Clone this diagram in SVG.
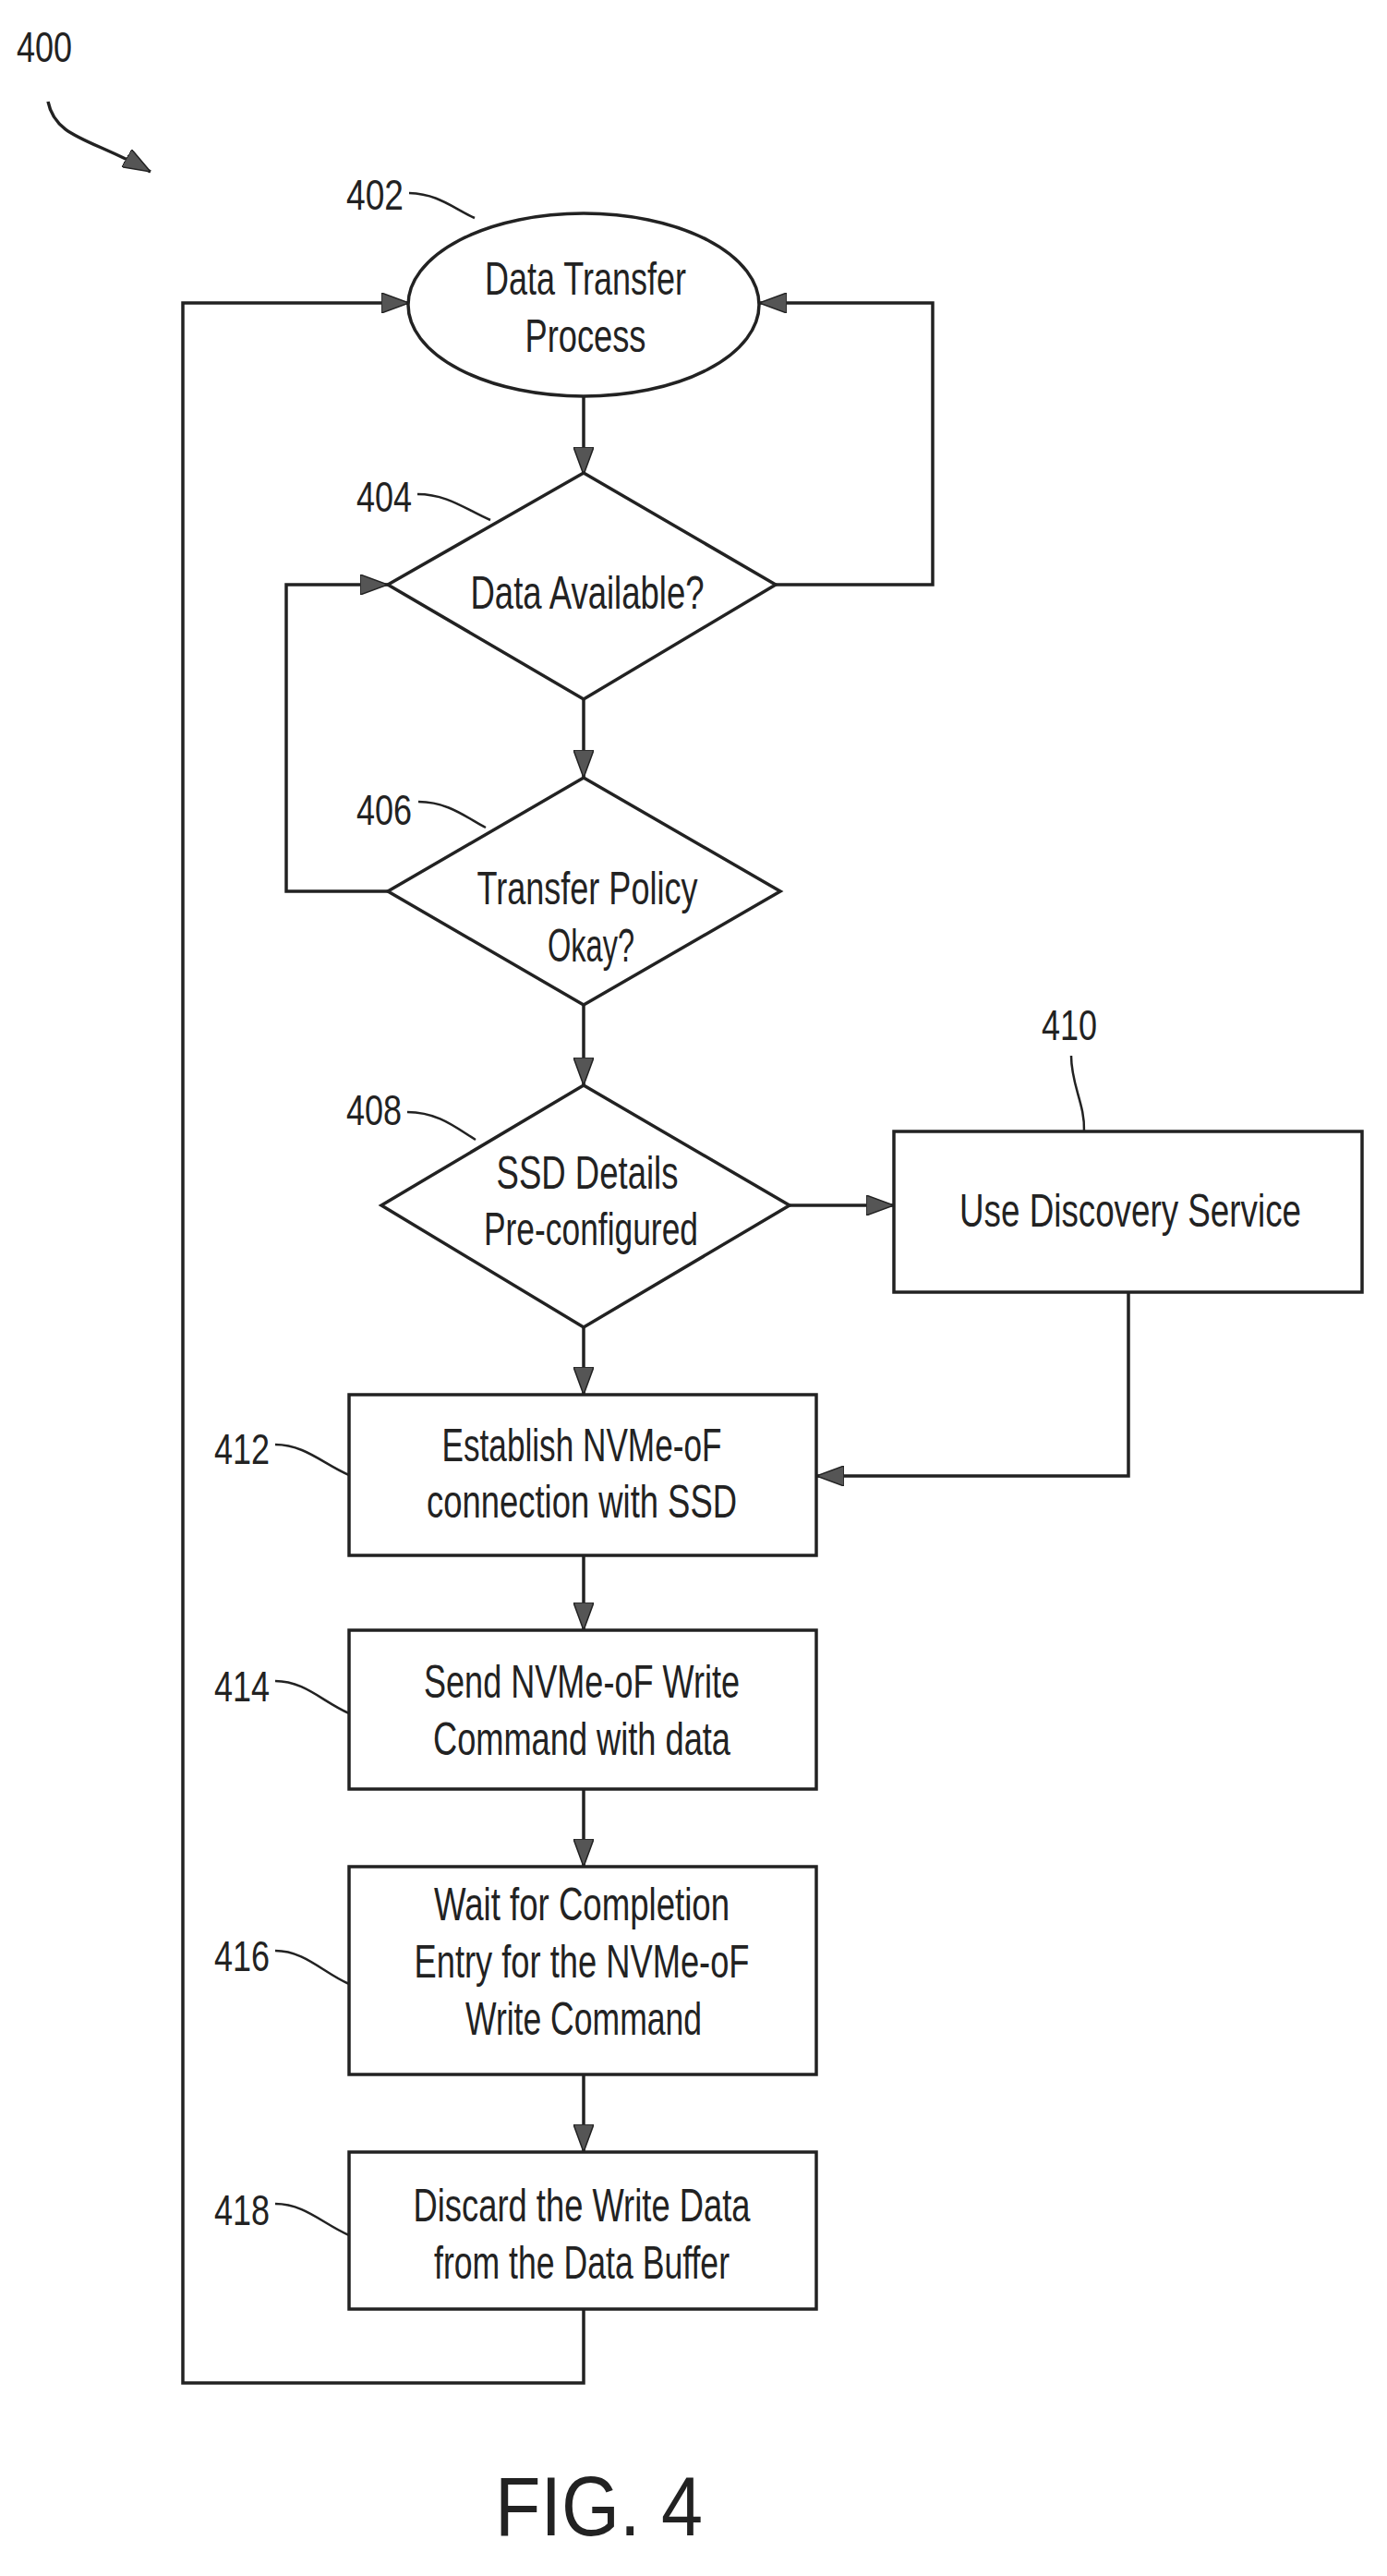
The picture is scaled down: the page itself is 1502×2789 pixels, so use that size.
<svg xmlns="http://www.w3.org/2000/svg" width="1502" height="2789" viewBox="0 0 1502 2789">
<style>
.s{fill:none;stroke:#222;stroke-width:3.5}
.c{fill:none;stroke:#222;stroke-width:3.5;marker-end:url(#a)}
.n{fill:#fff;stroke:#222;stroke-width:3.5}
text{font-family:"Liberation Sans",Arial,sans-serif;fill:#222;font-size:50px}
.t{text-anchor:middle}
.l{font-size:46px}
</style>
<defs>
<marker id="a" viewBox="0 0 30 22" refX="30" refY="11" markerWidth="30" markerHeight="22" markerUnits="userSpaceOnUse" orient="auto">
<path d="M0,0 L30,11 L0,22 Z" fill="#555" stroke="#222" stroke-width="1.5"/>
</marker>
</defs>
<rect width="1502" height="2789" fill="#fff"/>
<g id="connectors">
<path class="c" d="M632,429 V514"/>
<path class="c" d="M632,757 V842"/>
<path class="c" d="M632,1088 V1175"/>
<path class="c" d="M632,1437 V1510"/>
<path class="c" d="M632,1684 V1765"/>
<path class="c" d="M632,1937 V2021"/>
<path class="c" d="M632,2246 V2330"/>
<path class="c" d="M855,1305 H968"/>
<path class="c" d="M1222,1399 V1598 H884"/>
<path class="c" d="M840,633 H1010 V328 H822"/>
<path class="c" d="M420,965 H310 V633 H420"/>
<path class="c" d="M632,2500 V2580 H198 V328 H443"/>
<path class="c" d="M52,110 C60,150 100,150 163,186"/>
</g>
<g id="n402"><ellipse class="n" cx="632" cy="330" rx="190" ry="99"/>
<text class="t" x="634" y="319" textLength="218" lengthAdjust="spacingAndGlyphs">Data Transfer</text>
<text class="t" x="634" y="381" textLength="131" lengthAdjust="spacingAndGlyphs">Process</text></g>
<g id="n404"><polygon class="n" points="632,512 840,633 632,757 420,633"/>
<text class="t" x="636" y="659" textLength="253" lengthAdjust="spacingAndGlyphs">Data Available?</text></g>
<g id="n406"><polygon class="n" points="632,842 845,965 632,1088 420,965"/>
<text class="t" x="636" y="979" textLength="239" lengthAdjust="spacingAndGlyphs">Transfer Policy</text>
<text class="t" x="640" y="1041" textLength="94" lengthAdjust="spacingAndGlyphs">Okay?</text></g>
<g id="n408"><polygon class="n" points="632,1175 855,1305 632,1437 413,1305"/>
<text class="t" x="636" y="1287" textLength="197" lengthAdjust="spacingAndGlyphs">SSD Details</text>
<text class="t" x="640" y="1348" textLength="232" lengthAdjust="spacingAndGlyphs">Pre-configured</text></g>
<g id="n410"><rect class="n" x="968" y="1225" width="507" height="174"/>
<text class="t" x="1224" y="1328" textLength="370" lengthAdjust="spacingAndGlyphs">Use Discovery Service</text></g>
<g id="n412"><rect class="n" x="378" y="1510" width="506" height="174"/>
<text class="t" x="630" y="1582" textLength="303" lengthAdjust="spacingAndGlyphs">Establish NVMe-oF</text>
<text class="t" x="630" y="1643" textLength="336" lengthAdjust="spacingAndGlyphs">connection with SSD</text></g>
<g id="n414"><rect class="n" x="378" y="1765" width="506" height="172"/>
<text class="t" x="630" y="1838" textLength="342" lengthAdjust="spacingAndGlyphs">Send NVMe-oF Write</text>
<text class="t" x="630" y="1900" textLength="322" lengthAdjust="spacingAndGlyphs">Command with data</text></g>
<g id="n416"><rect class="n" x="378" y="2021" width="506" height="225"/>
<text class="t" x="630" y="2079" textLength="320" lengthAdjust="spacingAndGlyphs">Wait for Completion</text>
<text class="t" x="630" y="2141" textLength="363" lengthAdjust="spacingAndGlyphs">Entry for the NVMe-oF</text>
<text class="t" x="632" y="2203" textLength="256" lengthAdjust="spacingAndGlyphs">Write Command</text></g>
<g id="n418"><rect class="n" x="378" y="2330" width="506" height="170"/>
<text class="t" x="630" y="2405" textLength="365" lengthAdjust="spacingAndGlyphs">Discard the Write Data</text>
<text class="t" x="630" y="2467" textLength="320" lengthAdjust="spacingAndGlyphs">from the Data Buffer</text></g>
<g id="labels">
<text class="l" x="18" y="67" textLength="60" lengthAdjust="spacingAndGlyphs">400</text>
<text class="l" x="375" y="227" textLength="62" lengthAdjust="spacingAndGlyphs">402</text>
<path class="s" style="stroke-width:2.5" d="M443,209 C475,210 490,225 514,236"/>
<text class="l" x="386" y="554" textLength="60" lengthAdjust="spacingAndGlyphs">404</text>
<path class="s" style="stroke-width:2.5" d="M452,535 C485,535 505,552 531,563"/>
<text class="l" x="386" y="893" textLength="60" lengthAdjust="spacingAndGlyphs">406</text>
<path class="s" style="stroke-width:2.5" d="M453,868 C485,868 505,885 526,896"/>
<text class="l" x="375" y="1218" textLength="60" lengthAdjust="spacingAndGlyphs">408</text>
<path class="s" style="stroke-width:2.5" d="M441,1204 C475,1204 495,1222 515,1234"/>
<text class="l" x="1128" y="1126" textLength="60" lengthAdjust="spacingAndGlyphs">410</text>
<path class="s" style="stroke-width:2.5" d="M1160,1143 C1160,1175 1175,1195 1174,1225"/>
<text class="l" x="232" y="1585" textLength="60" lengthAdjust="spacingAndGlyphs">412</text>
<path class="s" style="stroke-width:2.5" d="M298,1564 C330,1564 350,1585 378,1597"/>
<text class="l" x="232" y="1842" textLength="60" lengthAdjust="spacingAndGlyphs">414</text>
<path class="s" style="stroke-width:2.5" d="M298,1820 C330,1820 350,1843 378,1855"/>
<text class="l" x="232" y="2134" textLength="60" lengthAdjust="spacingAndGlyphs">416</text>
<path class="s" style="stroke-width:2.5" d="M298,2112 C330,2112 350,2136 378,2148"/>
<text class="l" x="232" y="2409" textLength="60" lengthAdjust="spacingAndGlyphs">418</text>
<path class="s" style="stroke-width:2.5" d="M298,2386 C330,2386 350,2408 378,2420"/>
<text x="536" y="2745" textLength="225" lengthAdjust="spacingAndGlyphs" style="font-size:90px">FIG. 4</text>
</g>
</svg>
